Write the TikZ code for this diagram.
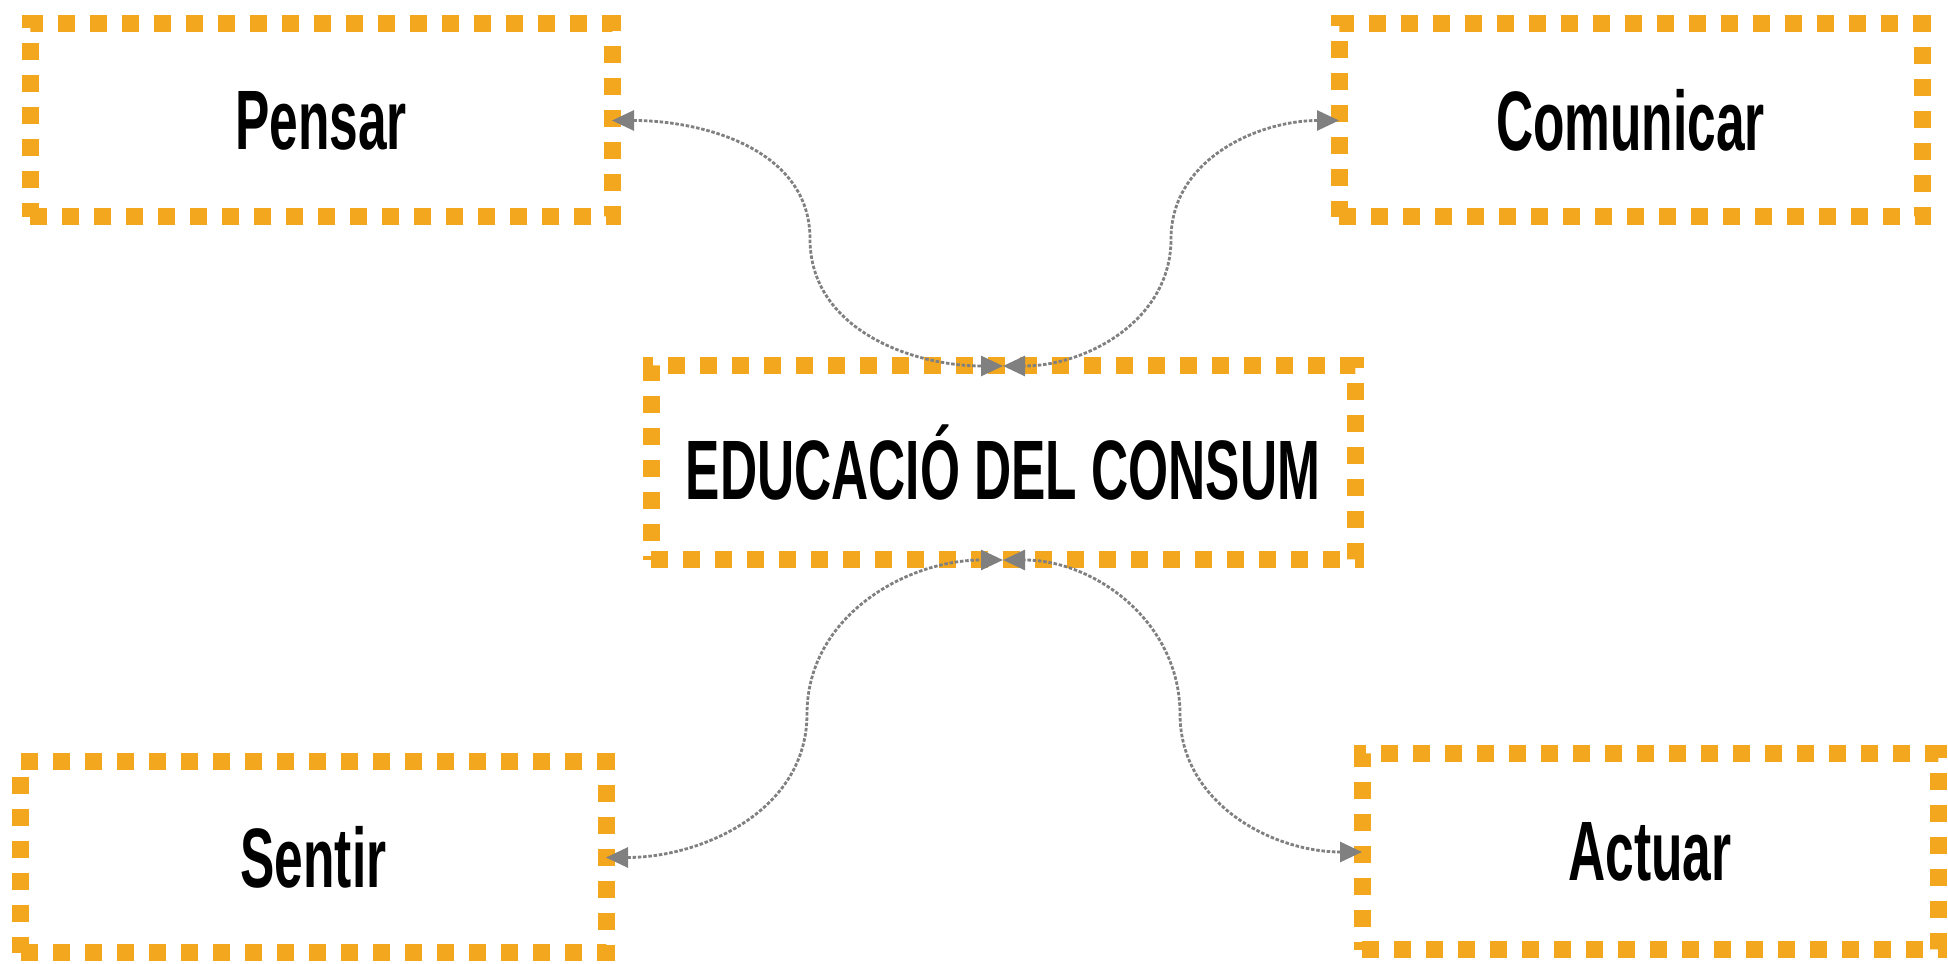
\documentclass[tikz,border=0pt]{standalone}
\usepackage{fontspec}
\setmainfont{Liberation Sans}[FakeStretch=0.61]
\usetikzlibrary{arrows.meta}
\definecolor{boxorange}{RGB}{242,167,31}
\definecolor{linkgray}{RGB}{128,128,128}
\begin{document}
\begin{tikzpicture}[
  topic/.style={draw=boxorange, line width=0.17cm, dash pattern=on 0.17cm off 0.15cm,
    outer sep=0pt, inner sep=0pt, font=\fontsize{24}{26}\selectfont\bfseries},
  link/.style={linkgray, line width=0.8pt, dash pattern=on 1pt off 0.5pt,
    {Triangle[length=0.22cm,width=0.2cm]}-{Triangle[length=0.22cm,width=0.2cm]}}]
\useasboundingbox (0,0) rectangle (19.48,9.64);
% boxes
\node [topic, minimum width=5.82cm, minimum height=1.93cm] (pensar) at (3.21,8.435) {Pensar};
\node [topic, minimum width=5.83cm, minimum height=1.93cm] (comunicar) at (16.305,8.435) {Comunicar};
\node [topic, minimum width=7.04cm, minimum height=1.94cm] (edu) at (10.03,5.01) {EDUCACIÓ DEL CONSUM};
\node [topic, minimum width=5.85cm, minimum height=1.91cm] (sentir) at (3.135,1.065) {Sentir};
\node [topic, minimum width=5.76cm, minimum height=1.96cm] (actuar) at (16.50,1.12) {Actuar};
% bends of the links
\coordinate (pbend) at (8.10,7.25);
\coordinate (cbend) at (11.71,7.25);
\coordinate (sbend) at (8.07,2.50);
\coordinate (abend) at (11.80,2.50);
% links
\draw [link] (pensar.east) to[out=0,in=90] (pbend) to[out=-90,in=180] (edu.north);
\draw [link] (comunicar.west) to[out=180,in=90] (cbend) to[out=-90,in=0] (edu.north);
\draw [link] (sentir.east) to[out=0,in=-90] (sbend) to[out=90,in=180] (edu.south);
\draw [link] (actuar.west) to[out=180,in=-90] (abend) to[out=90,in=0] (edu.south);
\end{tikzpicture}
\end{document}
